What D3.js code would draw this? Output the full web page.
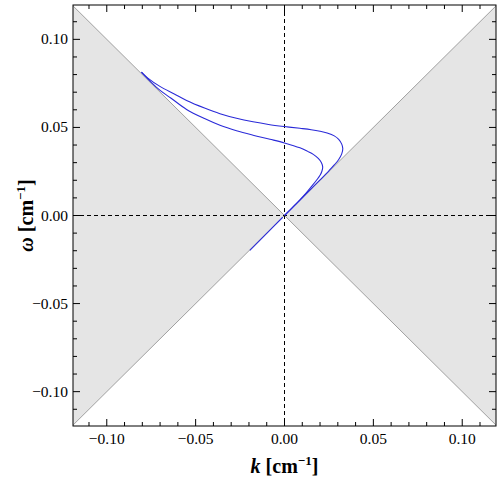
<!DOCTYPE html>
<html>
<head>
<meta charset="utf-8">
<script src="https://cdn.jsdelivr.net/npm/d3@7"></script>
<style>
  body { margin: 0; background: #fff; }
</style>
</head>
<body>
<svg id="chart" width="501" height="479"></svg>
<script>
// Axis limits and ticks
const kDomain = [-0.119, 0.119];
const wDomain = [-0.1195, 0.1195];
const majorTicks = [-0.10, -0.05, 0.00, 0.05, 0.10];
const minorTicks = [-0.11, -0.09, -0.08, -0.07, -0.06, -0.04, -0.03, -0.02, -0.01,
  0.01, 0.02, 0.03, 0.04, 0.06, 0.07, 0.08, 0.09, 0.11];

// Dispersion branches [k, omega]
const upperBranch = [
  [-0.0805, 0.0814], [-0.0769, 0.0780], [-0.0701, 0.0733], [-0.0620, 0.0690],
  [-0.0551, 0.0653], [-0.0450, 0.0610], [-0.0363, 0.0578], [-0.0270, 0.0552],
  [-0.0177, 0.0532], [-0.0090, 0.0517], [0.0000, 0.0505], [0.0087, 0.0495],
  [0.0150, 0.0487], [0.0200, 0.0478], [0.0240, 0.0468], [0.0280, 0.0452],
  [0.0305, 0.0432], [0.0322, 0.0405], [0.0328, 0.0380], [0.0322, 0.0350],
  [0.0305, 0.0318], [0.0280, 0.0287], [0.0250, 0.0254], [0.0200, 0.0202],
  [0.0150, 0.0151], [0.0100, 0.0100], [0.0050, 0.0050], [0.0000, 0.0000]
];
const lowerBranch = [
  [-0.0805, 0.0814], [-0.0750, 0.0756], [-0.0700, 0.0710], [-0.0640, 0.0667],
  [-0.0551, 0.0602], [-0.0450, 0.0550], [-0.0363, 0.0512], [-0.0270, 0.0481],
  [-0.0177, 0.0456], [-0.0082, 0.0433], [0.0000, 0.0412], [0.0087, 0.0384],
  [0.0130, 0.0364], [0.0162, 0.0347], [0.0190, 0.0324], [0.0208, 0.0300],
  [0.0215, 0.0275], [0.0210, 0.0250], [0.0200, 0.0228], [0.0180, 0.0200],
  [0.0150, 0.0162], [0.0120, 0.0125], [0.0080, 0.0082], [0.0040, 0.0041],
  [0.0000, 0.0000]
];
const negativeBranch = [[-0.0195, -0.0198], [-0.0100, -0.0101], [-0.0010, -0.0010]];

const serif = "'Liberation Serif', 'Times New Roman', serif";

const svg = d3.select("#chart");
const margin = { top: 5, right: 5, bottom: 53, left: 73 };
const width = 501 - margin.left - margin.right;
const height = 479 - margin.top - margin.bottom;

const x = d3.scaleLinear().domain(kDomain).range([0, width]);
const y = d3.scaleLinear().domain(wDomain).range([height, 0]);

const g = svg.append("g").attr("transform", `translate(${margin.left},${margin.top})`);

// Shaded regions |omega| < |k|
const kMax = kDomain[1];
g.append("path")
  .attr("fill", "#e5e5e5")
  .attr("d", d3.line()([[x(-kMax), y(kMax)], [x(0), y(0)], [x(-kMax), y(-kMax)]]));
g.append("path")
  .attr("fill", "#e5e5e5")
  .attr("d", d3.line()([[x(kMax), y(kMax)], [x(0), y(0)], [x(kMax), y(-kMax)]]));

// Light lines
[[-kMax, kMax], [kMax, kMax]].forEach(([a, b]) => {
  g.append("line")
    .attr("x1", x(a)).attr("y1", y(b))
    .attr("x2", x(-a)).attr("y2", y(-b))
    .attr("stroke", "#a0a0a0").attr("stroke-width", 1);
});

// Dashed zero lines
g.append("line")
  .attr("x1", x(0)).attr("x2", x(0)).attr("y1", 0).attr("y2", height)
  .attr("stroke", "#000").attr("stroke-dasharray", "4,3");
g.append("line")
  .attr("x1", 0).attr("x2", width).attr("y1", y(0)).attr("y2", y(0))
  .attr("stroke", "#000").attr("stroke-dasharray", "4,3");

// Branches
const line = d3.line()
  .x(d => x(d[0]))
  .y(d => y(d[1]))
  .curve(d3.curveCatmullRom.alpha(0.5));

[upperBranch, lowerBranch, negativeBranch].forEach(b => {
  g.append("path")
    .attr("d", line(b))
    .attr("fill", "none")
    .attr("stroke", "#2a2ad8")
    .attr("stroke-width", 1.1);
});

// Ticks on all four sides, pointing inward
const fmt = d => (d < 0 ? "\u2212" : "") + d3.format(".2f")(Math.abs(d));

function ticks(axis, labelled) {
  const tg = g.append("g");
  const all = majorTicks.map(v => ({ v, len: 7 })).concat(minorTicks.map(v => ({ v, len: 4 })));
  all.forEach(t => {
    if (axis === "bottom" || axis === "top") {
      const y0 = axis === "bottom" ? height : 0;
      const dir = axis === "bottom" ? -1 : 1;
      tg.append("line")
        .attr("x1", x(t.v)).attr("x2", x(t.v))
        .attr("y1", y0).attr("y2", y0 + dir * t.len)
        .attr("stroke", "#000");
    } else {
      const x0 = axis === "left" ? 0 : width;
      const dir = axis === "left" ? 1 : -1;
      tg.append("line")
        .attr("y1", y(t.v)).attr("y2", y(t.v))
        .attr("x1", x0).attr("x2", x0 + dir * t.len)
        .attr("stroke", "#000");
    }
  });
  if (!labelled) return;
  majorTicks.forEach(v => {
    if (axis === "bottom") {
      tg.append("text")
        .attr("x", x(v)).attr("y", height + 18)
        .attr("text-anchor", "middle")
        .attr("font-family", serif)
        .attr("font-size", 15.5)
        .text(fmt(v));
    } else {
      tg.append("text")
        .attr("x", -5).attr("y", y(v) + 5)
        .attr("text-anchor", "end")
        .attr("font-family", serif)
        .attr("font-size", 15.5)
        .text(fmt(v));
    }
  });
}
ticks("bottom", true);
ticks("left", true);
ticks("top", false);
ticks("right", false);

// Frame
g.append("rect")
  .attr("width", width).attr("height", height)
  .attr("fill", "none").attr("stroke", "#000").attr("stroke-width", 1);

// Axis labels
const xl = svg.append("text")
  .attr("x", margin.left + x(0))
  .attr("y", 473)
  .attr("text-anchor", "middle")
  .attr("font-family", serif)
  .attr("font-size", 20)
  .attr("font-weight", "bold");
xl.append("tspan").attr("font-style", "italic").text("k");
xl.append("tspan").text(" [cm");
xl.append("tspan").attr("font-size", 13).attr("dy", -8).text("\u22121");
xl.append("tspan").attr("dy", 8).text("]");

const yl = svg.append("text")
  .attr("transform", `translate(33,${margin.top + y(0)}) rotate(-90)`)
  .attr("text-anchor", "middle")
  .attr("font-family", serif)
  .attr("font-size", 20)
  .attr("font-weight", "bold");
yl.append("tspan").attr("font-style", "italic").text("\u03c9");
yl.append("tspan").text(" [cm");
yl.append("tspan").attr("font-size", 13).attr("dy", -8).text("\u22121");
yl.append("tspan").attr("dy", 8).text("]");
</script>
</body>
</html>
